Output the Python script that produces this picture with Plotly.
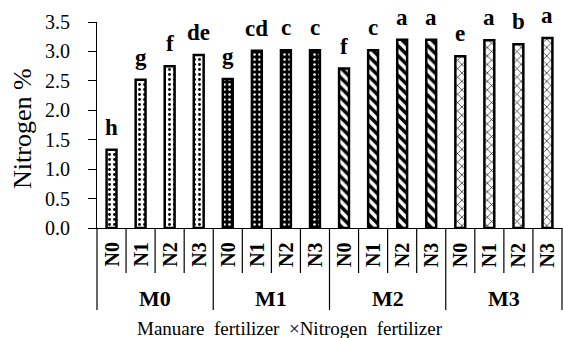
import plotly.graph_objects as go

manure = ["M0", "M1", "M2", "M3"]
nitrogen = ["N0", "N1", "N2", "N3"]
values = [
    [1.33, 2.52, 2.75, 2.94],
    [2.53, 3.01, 3.02, 3.02],
    [2.71, 3.02, 3.20, 3.20],
    [2.92, 3.19, 3.12, 3.23],
]
letters = [
    ["h", "g", "f", "de"],
    ["g", "cd", "c", "c"],
    ["f", "c", "a", "a"],
    ["e", "a", "b", "a"],
]
y_ticks = [0.0, 0.5, 1.0, 1.5, 2.0, 2.5, 3.0, 3.5]

patterns = [
    dict(shape=".", fgcolor="black", bgcolor="white", size=5, solidity=0.25, fillmode="replace"),
    dict(shape=".", fgcolor="white", bgcolor="black", size=5, solidity=0.2, fillmode="replace"),
    dict(shape="\\", fgcolor="black", bgcolor="white", size=7, solidity=0.5, fillmode="replace"),
    dict(shape="x", fgcolor="black", bgcolor="white", size=6, solidity=0.2, fillmode="replace"),
]

FONT = "Liberation Serif"
W, H = 563, 338
ml, mr, mt, mb = 97, 1, 22, 110
plot_w = W - ml - mr
plot_h = H - mt - mb

cats = [f"{m}-{n}" for m in manure for n in nitrogen]
ncat = len(cats)

fig = go.Figure()
for gi, m in enumerate(manure):
    xs = [f"{m}-{n}" for n in nitrogen]
    fig.add_trace(go.Bar(
        x=xs, y=values[gi], width=0.34,
        marker=dict(color="white", line=dict(color="black", width=2.5), pattern=patterns[gi]),
        showlegend=False, hoverinfo="skip",
    ))

annotations = []
for gi, m in enumerate(manure):
    for ni, n in enumerate(nitrogen):
        annotations.append(dict(
            x=f"{m}-{n}", y=values[gi][ni], xref="x", yref="y",
            text=letters[gi][ni], showarrow=False, yanchor="bottom", yshift=8,
            font=dict(family=FONT, size=23, color="black", weight="bold"),
        ))
        annotations.append(dict(
            x=f"{m}-{n}", y=-27 / plot_h, xref="x", yref="paper",
            text=n, showarrow=False, textangle=-90, xanchor="center", yanchor="middle",
            font=dict(family=FONT, size=20, color="black", weight="bold"),
        ))
    annotations.append(dict(
        x=(gi * 4 + 2) / ncat, y=-70 / plot_h, xref="paper", yref="paper",
        text=m, showarrow=False, xanchor="center", yanchor="middle",
        font=dict(family=FONT, size=22, color="black", weight="bold"),
    ))

annotations.append(dict(
    x=(290 - ml) / plot_w, y=-100 / plot_h, xref="paper", yref="paper",
    text="Manuare\u00a0 fertilizer\u00a0 \u00d7Nitrogen\u00a0 fertilizer", showarrow=False,
    xanchor="center", yanchor="middle",
    font=dict(family=FONT, size=19, color="black"),
))
annotations.append(dict(
    x=(22 - ml) / plot_w, y=(228 - 129) / plot_h, xref="paper", yref="paper",
    text="Nitrogen %", showarrow=False, textangle=-90,
    xanchor="center", yanchor="middle",
    font=dict(family=FONT, size=26, color="black"),
))

shapes = []
for i in range(ncat + 1):
    long_line = (i % 4 == 0)
    shapes.append(dict(
        type="line", xref="paper", yref="paper",
        x0=i / ncat, x1=i / ncat, y0=0, y1=(-82 if long_line else -45) / plot_h,
        line=dict(color="black", width=1.2),
    ))

fig.update_layout(
    width=W, height=H,
    margin=dict(l=ml, r=mr, t=mt, b=mb),
    plot_bgcolor="white", paper_bgcolor="white",
    font=dict(family=FONT, color="black"),
    bargap=0.6,
    annotations=annotations,
    shapes=shapes,
    xaxis=dict(
        type="category", categoryorder="array", categoryarray=cats,
        range=[-0.5, ncat - 0.5], showticklabels=False, ticks="",
        showline=True, linecolor="black", linewidth=1.2, showgrid=False, zeroline=False,
    ),
    yaxis=dict(
        range=[0, 3.5], tickvals=y_ticks, ticktext=[f"{v:.1f}" for v in y_ticks],
        ticks="outside", ticklen=8, tickcolor="black", tickwidth=1.2,
        showline=True, linecolor="black", linewidth=1.2, showgrid=False, zeroline=False,
        tickfont=dict(family=FONT, size=20, color="black"), ticklabelstandoff=14,
    ),
)

fig.write_html(
    "out.html",
    config={"displayModeBar": False},
    post_script="document.body.style.margin='0';document.body.style.padding='0';",
)
